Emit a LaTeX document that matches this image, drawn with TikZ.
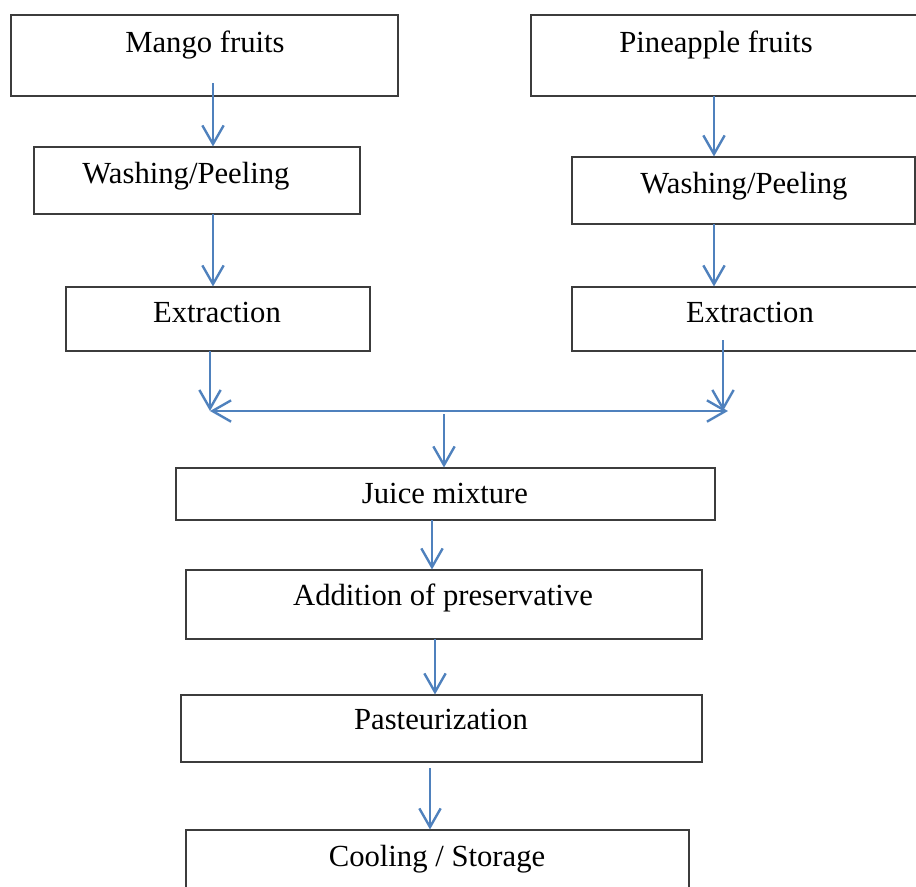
\documentclass[tikz,border=0pt]{standalone}
\usepackage{fontspec}
\setmainfont{Liberation Serif}
\usetikzlibrary{arrows.meta,fit}
\definecolor{arrowblue}{RGB}{79,129,189}
\definecolor{boxline}{RGB}{60,60,60}
\begin{document}
\begin{tikzpicture}[x=0.75pt,y=-0.75pt,
  box/.style={draw=boxline,line width=0.8pt,inner sep=0pt,rectangle},
  lbl/.style={anchor=base,inner sep=0pt,font=\fontsize{23}{27}\selectfont},
  tip/.style={},
  arr/.style={draw=arrowblue,line width=1.8pt,-{Straight Barb[length=14pt,width=16pt,line width=1.8pt]}},
  arrboth/.style={draw=arrowblue,line width=1.8pt,{Straight Barb[length=14pt,width=16pt,line width=1.8pt]}-{Straight Barb[length=14pt,width=16pt,line width=1.8pt]}}]
\useasboundingbox (0,0) rectangle (916,886);
% boxes
\node[box,fit={(11,15)(398,96)}] (mango) {};
\node[box,fit={(531,15)(930,96)}] (pine) {};
\node[box,fit={(34,147)(360,214)}] (wl) {};
\node[box,fit={(572,157)(915,224)}] (wr) {};
\node[box,fit={(66,287)(370,351)}] (el) {};
\node[box,fit={(572,287)(930,351)}] (er) {};
\node[box,fit={(176,468)(715,520)}] (juice) {};
\node[box,fit={(186,570)(702,639)}] (add) {};
\node[box,fit={(181,695)(702,762)}] (past) {};
\node[box,fit={(186,830)(689,900)}] (cool) {};
% labels
\node[lbl] (tmango) at (205,52) {Mango fruits};
\node[lbl] (tpine) at (716,52) {Pineapple fruits};
\node[lbl] (twl) at (186,183) {Washing/Peeling};
\node[lbl] (twr) at (744,193) {Washing/Peeling};
\node[lbl] (tel) at (217,322) {Extraction};
\node[lbl] (ter) at (750,322) {Extraction};
\node[lbl] (tjuice) at (445,503) {Juice mixture};
\node[lbl] (tadd) at (443,605) {Addition of preservative};
\node[lbl] (tpast) at (441,729) {Pasteurization};
\node[lbl] (tcool) at (437,866) {Cooling / Storage};
% connector coordinates
\coordinate (m1) at (213,83);
\coordinate (w1) at (213,214);
\coordinate (p1) at (714,96);
\coordinate (w2) at (714,224);
\coordinate (e1) at (210,351);
\coordinate (e2) at (723,340);
\coordinate (jl) at (210,411);
\coordinate (jr) at (728,411);
\coordinate (jm) at (444,414);
\coordinate (j1) at (432,520);
\coordinate (a1) at (435,639);
\coordinate (p2) at (430,768);
% connectors
\draw[arr] (m1) -- (m1 |- wl.north);
\draw[arr] (w1) -- (w1 |- el.north);
\draw[arr] (p1) -- (p1 |- wr.north);
\draw[arr] (w2) -- (w2 |- er.north);
\draw[arr] (e1) -- (jl);
\draw[arr] (e2) -- (e2 |- jr);
\draw[arrboth] (jl) -- (jr);
\draw[arr] (jm) -- (jm |- juice.north);
\draw[arr] (j1) -- (j1 |- add.north);
\draw[arr] (a1) -- (a1 |- past.north);
\draw[arr] (p2) -- (p2 |- cool.north);
\end{tikzpicture}
\end{document}
